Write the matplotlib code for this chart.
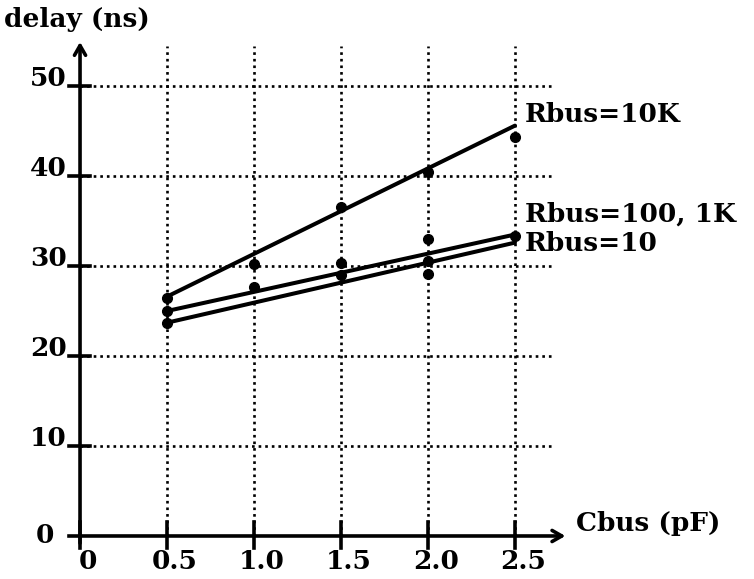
import matplotlib
matplotlib.use("Agg")
import matplotlib.pyplot as plt

# Measured delays (ns) vs bus capacitance (pF)
point_cbus = [0.5, 0.5, 0.5, 1.0, 1.0, 1.5, 1.5, 1.5, 2.0, 2.0, 2.0, 2.0, 2.5, 2.5]
point_delay = [26.4, 25.0, 23.7, 30.2, 27.7, 36.6, 30.3, 29.0, 40.4, 33.0, 30.6, 29.1, 44.3, 33.3]

# Fitted lines (endpoints at Cbus = 0.5 and 2.5)
fit_cbus = [0.5, 2.5]
fit_10k = [26.6, 45.6]
fit_100_1k = [25.0, 33.5]
fit_10 = [23.7, 32.6]

labels = ["Rbus=10K", "Rbus=100, 1K", "Rbus=10"]

x_ticks = [0.5, 1.0, 1.5, 2.0, 2.5]
x_ticklabels = ["0.5", "1.0", "1.5", "2.0", "2.5"]
y_ticks = [10, 20, 30, 40, 50]
y_ticklabels = ["10", "20", "30", "40", "50"]

FONT = "DejaVu Serif"
plt.rcParams["font.family"] = FONT
plt.rcParams["font.weight"] = "bold"

fig = plt.figure(figsize=(7.54, 5.79), dpi=100)
ax = fig.add_axes([0, 0, 1, 1])
ax.set_xlim(-0.46, 3.874)
ax.set_ylim(-4.78, 59.56)
ax.axis("off")

# dotted grid
dot = (0, (1.0, 1.5))
for x in x_ticks:
    ax.plot([x, x], [0, 54.5], color="black", lw=1.9, linestyle=dot, zorder=1)
for y in y_ticks:
    ax.plot([0, 2.72], [y, y], color="black", lw=1.9, linestyle=dot, zorder=1)

# axes with arrows
arrow = dict(arrowstyle="->,head_length=0.7,head_width=0.4", lw=2.6, color="black",
             shrinkA=0, shrinkB=0)
ax.annotate("", xy=(2.79, 0), xytext=(0, 0), arrowprops=arrow, zorder=3)
ax.annotate("", xy=(0, 54.9), xytext=(0, -0.8), arrowprops=arrow, zorder=3)

# tick marks
for x in [0] + x_ticks:
    ax.plot([x, x], [-1.3, 1.5], color="black", lw=2.6, zorder=3)
for y in y_ticks:
    ax.plot([-0.065, 0.06], [y, y], color="black", lw=2.6, zorder=3)
ax.plot([-0.065, 0], [0, 0], color="black", lw=2.6, zorder=3)

# tick labels
tick_fs = 19
for x, t in zip([0] + x_ticks, ["0"] + x_ticklabels):
    ax.text(x + 0.045, -1.4, t, fontsize=tick_fs, ha="center", va="top", fontweight="bold")
for y, t in zip(y_ticks, y_ticklabels):
    ax.text(-0.075, y, t, fontsize=tick_fs, ha="right", va="baseline", fontweight="bold")
ax.text(-0.2, 0, "0", fontsize=tick_fs, ha="center", va="center", fontweight="bold")

# axis titles
ax.text(-0.02, 57.4, "delay (ns)", fontsize=19, ha="center", va="center", fontweight="bold")
ax.text(2.85, 1.4, "Cbus (pF)", fontsize=19, ha="left", va="center", fontweight="bold")

# fitted lines
for ys in (fit_10k, fit_100_1k, fit_10):
    ax.plot(fit_cbus, ys, color="black", lw=2.9, solid_capstyle="round", zorder=4)

# measured points
ax.plot(point_cbus, point_delay, "o", color="black", markersize=7, zorder=5)

# curve labels
ax.text(2.555, 46.8, labels[0], fontsize=19, ha="left", va="center", fontweight="bold")
ax.text(2.555, 35.8, labels[1], fontsize=19, ha="left", va="center", fontweight="bold")
ax.text(2.555, 32.5, labels[2], fontsize=19, ha="left", va="center", fontweight="bold")

fig.savefig("out.png", dpi=100, facecolor="white")
